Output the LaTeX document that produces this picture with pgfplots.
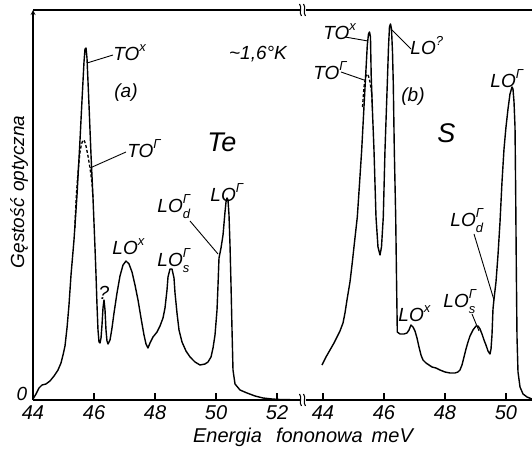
\documentclass[border=0pt]{standalone}
\usepackage{pgfplots}
\pgfplotsset{compat=1.18}
\usepackage{fontspec}
\setmainfont{Liberation Sans}

% lettering used for all labels
\newcommand\lbl{\fontsize{19bp}{21bp}\selectfont\itshape}
\newcommand\ticklbl{\fontsize{20bp}{22bp}\selectfont\itshape}
\newcommand\biglbl{\fontsize{27bp}{28bp}\selectfont\itshape}
\newcommand\up[1]{\raisebox{0.5em}{\fontsize{13bp}{13bp}\selectfont #1}}
\newcommand\updn[2]{\rlap{\raisebox{0.5em}{\fontsize{13bp}{13bp}\selectfont #1}}\raisebox{-0.28em}{\fontsize{13bp}{13bp}\selectfont #2}}

\begin{document}
\begin{tikzpicture}
\useasboundingbox (0,0) rectangle (532bp,453bp);
\pgfplotsset{
  panel/.style={
    scale only axis, height=390bp, ymin=0, ymax=390,
    axis x line=box, xtick pos=left, xticklabel pos=lower,
    xtick align=inside, major tick length=7bp,
    ytick=\empty,
    axis line style={-, line width=1.2bp},
    every outer x axis line/.append style={-},
    every outer y axis line/.append style={-},
    tick style={line width=1.1bp, black},
    xticklabel style={font=\ticklbl, yshift=-2bp},
    /pgf/number format/assume math mode=true,
    clip=false,
  },
  curve/.style={black, line width=1.4bp, line join=round, mark=none},
  inner/.style={black, line width=1.3bp, densely dashed, mark=none},
}

% (a) tellurium
\begin{axis}[panel, at={(33bp,53bp)}, anchor=south west, width=267bp,
  xmin=44, xmax=52.754, axis y line=left, xtick={44,46,...,52}]
\addplot[curve] coordinates {
(44.000,1)(44.098,6)(44.197,12)(44.295,15)(44.426,16)(44.557,19)(44.689,24)
(44.820,30)(44.918,37)(44.984,45)(45.049,54)(45.115,72)(45.180,95)(45.246,125)
(45.344,160)(45.443,205)(45.541,260)(45.607,300)(45.672,338)(45.705,351)
(45.738,352)(45.770,342)(45.836,295)(45.902,245)(45.967,202)(46.033,152)
(46.066,125)(46.098,95)(46.131,70)(46.164,58)(46.197,57)(46.230,62)(46.262,75)
(46.295,92)(46.328,100)(46.361,90)(46.393,70)(46.426,59)(46.459,56)(46.525,60)
(46.590,72)(46.656,87)(46.754,107)(46.852,124)(46.951,135)(47.049,139)
(47.148,136)(47.246,128)(47.344,115)(47.443,100)(47.541,82)(47.639,65)
(47.705,56)(47.770,52)(47.836,57)(47.934,63)(48.066,68)(48.164,74)(48.262,82)
(48.328,92)(48.393,110)(48.426,123)(48.492,131)(48.557,131)(48.623,122)
(48.656,107)(48.721,87)(48.787,70)(48.885,58)(49.016,49)(49.148,43)(49.311,38)
(49.475,35)(49.639,36)(49.738,38)(49.836,43)(49.902,52)(49.967,65)(50.033,90)
(50.066,115)(50.098,142)(50.164,152)(50.230,165)(50.295,188)(50.328,198)
(50.361,202)(50.393,200)(50.426,185)(50.459,155)(50.492,115)(50.525,70)
(50.557,30)(50.623,16)(50.787,10)(51.016,7)(51.279,4)(51.541,2)(51.836,1)
(52.098,0.5)(52.426,0.3)};
\addplot[inner] coordinates {
(45.371,172)(45.410,200)(45.475,228)(45.541,248)(45.590,256)(45.639,260)
(45.689,259)(45.738,254)(45.803,244)(45.869,232)(45.934,217)(45.967,202)};
\end{axis}

% (b) selenium-sulphur sample
\begin{axis}[panel, at={(306bp,53bp)}, anchor=south west, width=226bp,
  xmin=43.443, xmax=50.853, axis y line=none, xtick={44,46,48,50}]
\addplot[curve] coordinates {
(43.967,35)(44.098,43)(44.230,50)(44.361,57)(44.459,63)(44.557,69)(44.656,77)
(44.721,87)(44.787,100)(44.885,118)(44.951,135)(45.016,153)(45.125,183)
(45.197,216)(45.269,250)(45.335,288)(45.400,325)(45.453,355)(45.492,366)
(45.525,368)(45.557,363)(45.580,325)(45.623,288)(45.672,250)(45.738,183)
(45.803,153)(45.869,145)(45.918,153)(45.977,183)(46.033,250)(46.108,316)
(46.148,353)(46.180,373)(46.213,376)(46.246,371)(46.279,348)(46.305,316)
(46.338,250)(46.384,183)(46.410,123)(46.436,68)(46.525,66)(46.656,66)
(46.754,67)(46.820,70)(46.885,75)(46.951,73)(47.017,69)(47.082,62)(47.148,53)
(47.213,45)(47.279,40)(47.377,37)(47.476,35)(47.574,33)(47.705,32)(47.836,30)
(48.000,28)(48.164,27)(48.328,27)(48.426,28)(48.492,30)(48.557,35)(48.623,43)
(48.689,51)(48.754,58)(48.820,64)(48.918,70)(49.017,74)(49.082,74)(49.148,71)
(49.213,66)(49.279,60)(49.344,55)(49.410,49)(49.476,46)(49.509,51)(49.541,65)
(49.574,91)(49.607,101)(49.672,118)(49.738,145)(49.804,178)(49.869,218)
(49.935,251)(50.000,273)(50.066,291)(50.131,306)(50.197,313)(50.230,311)
(50.263,298)(50.296,273)(50.319,203)(50.338,133)(50.361,63)(50.394,28)
(50.460,13)(50.558,6)(50.689,3)(50.853,1)};
\addplot[inner] coordinates {
(45.295,293)(45.344,313)(45.394,323)(45.443,326)(45.492,324)(45.541,318)
(45.590,308)(45.623,291)};
\end{axis}

% labels, leaders and axis breaks (1 unit = 1bp, y downwards from the top)
\begin{scope}[x=1bp, y=-1bp, shift={(0,453bp)},
  every node/.style={font=\lbl, inner sep=0pt}, line width=0.9bp]
  % axis breaks
  \foreach \yy in {10,400}{
    \draw[line width=1.1bp] (299.5,\yy-6) .. controls (302.5,\yy-3) and (298.5,\yy+3) .. (301.5,\yy+6);
    \draw[line width=1.1bp] (303.5,\yy-6) .. controls (306.5,\yy-3) and (302.5,\yy+3) .. (305.5,\yy+6);
  }
  % axis titles
  \node at (22,394) {0};
  \node[font=\ticklbl] at (303,437) {Energia\hspace{14bp}fononowa\hspace{9bp}meV};
  \node[rotate=90] at (19,192) {Gęstość\hspace{0.35em}optyczna};
  % panel (a)
  \node[anchor=base west] at (113,61) {TO\up{x}};
  \draw (87,63) -- (113,55);
  \node at (126,93) {(a)};
  \node at (258,54) {\textasciitilde 1,6°K};
  \node[anchor=base west] at (127,158) {TO\up{Γ}};
  \draw (90,168) -- (126,152);
  \node[anchor=base west, font=\biglbl] at (207,152) {Te};
  \node[anchor=base west] at (157,213) {LO\updn{Γ}{d}};
  \draw (190,221) -- (218,254);
  \node[anchor=base west] at (210,202) {LO\up{Γ}};
  \node[anchor=base west] at (112,255) {LO\up{x}};
  \node[anchor=base west] at (157,267) {LO\updn{Γ}{s}};
  \node at (104,293) {?};
  % panel (b)
  \node[anchor=base west] at (323,40) {TO\up{x}};
  \draw (345,37) -- (368,41);
  \node[anchor=base west] at (313,80) {TO\up{Γ}};
  \draw (341,72) -- (364,80);
  \node[anchor=base west] at (410,55) {LO\up{?}};
  \draw (391,29) -- (411,49);
  \node at (413,97) {(b)};
  \node[anchor=base west, font=\biglbl] at (437,143) {S};
  \node[anchor=base west] at (490,88) {LO\up{Γ}};
  \node[anchor=base west] at (450,227) {LO\updn{Γ}{d}};
  \draw (474,234) -- (494,300);
  \node[anchor=base west] at (443,308) {LO\updn{Γ}{s}};
  \draw (472,314) -- (479,331);
  \node[anchor=base west] at (398,322) {LO\up{x}};
\end{scope}
\end{tikzpicture}
\end{document}
